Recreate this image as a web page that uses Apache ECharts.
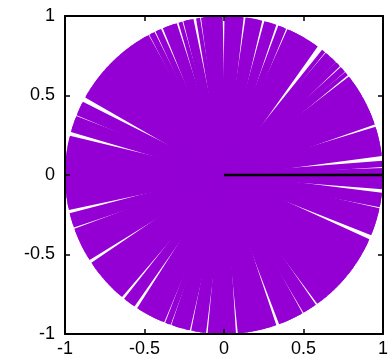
<!DOCTYPE html>
<html>
<head>
<meta charset="utf-8">
<script src="https://cdn.jsdelivr.net/npm/echarts@6/dist/echarts.min.js"></script>
<style>
  html, body { margin: 0; padding: 0; background: #fff; }
  #chart { width: 391px; height: 358px; }
</style>
</head>
<body>
<div id="chart"></div>
<script>
// Direction of each unit ray, in degrees counter-clockwise from +x
const rayAngles = [
  0.3, 1.1, 1.8, 3.6, 4.4, 7.6, 8.3, 9.1, 9.9,
  10.6, 11.5, 12.2, 13.0, 13.9, 14.6, 15.4, 16.1, 16.9, 19.2, 19.9,
  20.8, 21.5, 22.3, 23.2, 23.9, 24.7, 25.6, 26.3, 27.1, 28.0, 28.7, 29.5,
  30.4, 31.1, 31.9, 32.8, 33.5, 34.3, 35.1, 35.9, 36.8, 37.5, 39.6, 41.2, 42.0, 43.9, 44.6,
  46.0, 46.8, 47.5, 48.8, 49.5, 51.2, 54.6,
  55.4, 56.1, 57.0, 57.8, 58.5, 59.4, 60.2, 60.9, 61.8, 62.6, 63.3, 64.2, 65.0, 65.8, 67.7, 68.5, 69.3,
  71.5, 72.2, 73.1, 73.9, 74.6, 76.8, 77.6, 78.4, 79.1, 80.0, 80.8, 81.5, 83.6, 84.4, 85.1, 86.0, 86.8, 87.5, 88.4, 89.1,
  91.2, 92.0, 92.7, 93.6, 94.4, 95.1, 96.0, 96.8, 97.6, 99.4, 101.8, 102.6, 103.4, 104.1, 105.9, 108.0, 108.8, 109.5,
  110.4, 111.2, 111.9, 114.0, 114.8, 116.6, 117.3, 119.0, 119.8,
  120.6, 121.4, 122.2, 123.0, 123.7, 124.6, 125.4, 126.1, 127.0, 127.8, 128.5, 129.4, 130.2, 130.9, 131.8, 132.6, 133.3,
  134.2, 135.0, 135.7, 136.6, 137.4, 138.1, 139.0, 139.8, 140.5, 141.4, 142.2, 142.9, 143.8, 144.6, 145.3, 146.2, 147.0,
  147.7, 148.6, 149.4, 150.1, 153.3, 154.0, 154.9, 155.7, 156.4, 157.2, 158.9, 159.7, 160.4, 161.3, 162.1, 162.8, 163.6,
  166.4, 167.1, 168.0, 168.8, 169.5, 170.4, 171.2, 171.9, 172.8, 173.6, 174.3, 175.2, 176.0, 176.7, 177.6, 178.4, 179.1,
  180.0, 180.8, 181.5, 182.4, 183.2, 183.9, 184.8, 185.6, 186.3, 187.2, 188.0, 188.7, 189.6, 190.4, 191.1, 192.0,
  194.6, 195.4, 196.1, 197.0, 197.8, 198.6, 200.5, 201.3, 202.0, 202.9, 203.7, 204.4, 205.3, 206.1, 206.8, 207.7, 208.5,
  209.2, 210.1, 210.9, 211.6, 214.2, 215.0, 215.7, 216.6, 217.4, 218.1, 219.0, 219.8, 220.5, 221.4, 222.2, 222.9, 223.8,
  224.6, 225.3, 226.2, 227.0, 227.7, 228.6, 229.4, 231.8, 232.6, 233.3, 234.2, 235.0, 237.6, 238.4, 239.1, 240.0, 240.8,
  241.5, 242.4, 243.2, 243.9, 244.8, 245.6, 246.3, 247.2, 249.0, 249.7, 251.4, 252.1, 253.0, 253.8, 254.5, 255.4, 256.2,
  256.9, 258.8, 259.6, 260.3, 261.2, 262.0, 262.8, 264.8, 265.6, 266.3, 267.2, 268.0, 268.7, 269.6, 270.4, 271.1, 272.0,
  272.8, 273.6, 275.7, 276.5, 277.2, 278.1, 278.9, 279.6, 280.5, 281.3, 282.0, 282.9, 283.7, 284.4, 285.3, 286.1, 286.8,
  287.7, 288.5, 291.0, 291.8, 292.5, 293.4, 294.2, 294.9, 295.8, 296.6, 297.3, 298.2, 298.9, 300.7, 301.5, 302.2, 303.1,
  303.9, 304.6, 306.6, 307.4, 308.1, 309.0, 309.8, 310.5, 311.4, 312.2, 312.9, 313.8, 314.6, 315.3, 316.2, 317.0, 317.7,
  318.6, 319.4, 320.1, 321.0, 321.8, 322.5, 323.4, 324.2, 324.9, 325.8, 326.6, 327.3, 328.2, 329.0, 329.7, 330.6, 331.4,
  332.1, 333.0, 333.8, 334.5, 335.4, 338.5, 339.3, 340.0, 340.9, 341.7, 342.4, 343.3, 344.1, 344.8, 345.7, 346.5, 347.2,
  349.0, 349.8, 350.5, 351.4, 352.2, 352.9, 355.6, 356.4, 357.1, 358.0, 358.8, 359.5
];
const rayLength = 1;

// Reference segment along the positive x axis
const refX = [0, 1];
const refY = [0, 0];

const xTickLabels = ['-1', '-0.5', '0', '0.5', '1'];
const yTickLabels = ['-1', '-0.5', '0', '0.5', '1'];
const axisMin = -1, axisMax = 1, axisStep = 0.5;

const rayData = rayAngles.map(function (a) {
  const t = a * Math.PI / 180;
  return { coords: [[0, 0], [rayLength * Math.cos(t), rayLength * Math.sin(t)]] };
});

function tickText(labels) {
  return function (v) {
    const i = Math.round((v - axisMin) / axisStep);
    return labels[i] !== undefined ? labels[i] : '';
  };
}

const font = '"Liberation Sans", Arial, sans-serif';
const frame = { show: true, onZero: false, lineStyle: { color: '#000', width: 2 } };
const ticks = { show: true, inside: true, length: 5, lineStyle: { color: '#000', width: 1.5 } };

const chart = echarts.init(document.getElementById('chart'), null, { renderer: 'canvas' });
chart.setOption({
  animation: false,
  backgroundColor: '#fff',
  grid: { left: 65, right: 2, top: 16, bottom: 20, containLabel: false },
  xAxis: [
    {
      type: 'value', position: 'bottom', min: axisMin, max: axisMax, interval: axisStep, z: 10,
      axisLine: frame, axisTick: ticks, splitLine: { show: false },
      axisLabel: { color: '#000', fontSize: 18, fontFamily: font, margin: 6, formatter: tickText(xTickLabels) }
    },
    {
      type: 'value', position: 'top', min: axisMin, max: axisMax, interval: axisStep, z: 10,
      axisLine: frame, axisTick: ticks, splitLine: { show: false }, axisLabel: { show: false }
    }
  ],
  yAxis: [
    {
      type: 'value', position: 'left', min: axisMin, max: axisMax, interval: axisStep, z: 10,
      axisLine: frame, axisTick: ticks, splitLine: { show: false },
      axisLabel: { color: '#000', fontSize: 18, fontFamily: font, margin: 10, formatter: tickText(yTickLabels) }
    },
    {
      type: 'value', position: 'right', min: axisMin, max: axisMax, interval: axisStep, z: 10,
      axisLine: frame, axisTick: ticks, splitLine: { show: false }, axisLabel: { show: false }
    }
  ],
  series: [
    {
      type: 'lines',
      coordinateSystem: 'cartesian2d',
      xAxisIndex: 0, yAxisIndex: 0,
      polyline: false,
      silent: true,
      lineStyle: { color: '#9400d3', width: 4, opacity: 1, cap: 'butt' },
      data: rayData,
      z: 2
    },
    {
      type: 'line',
      xAxisIndex: 0, yAxisIndex: 0,
      data: refX.map(function (x, i) { return [x, refY[i]]; }),
      symbol: 'none',
      lineStyle: { color: '#000', width: 2.5 },
      z: 5
    }
  ]
});
</script>
</body>
</html>
